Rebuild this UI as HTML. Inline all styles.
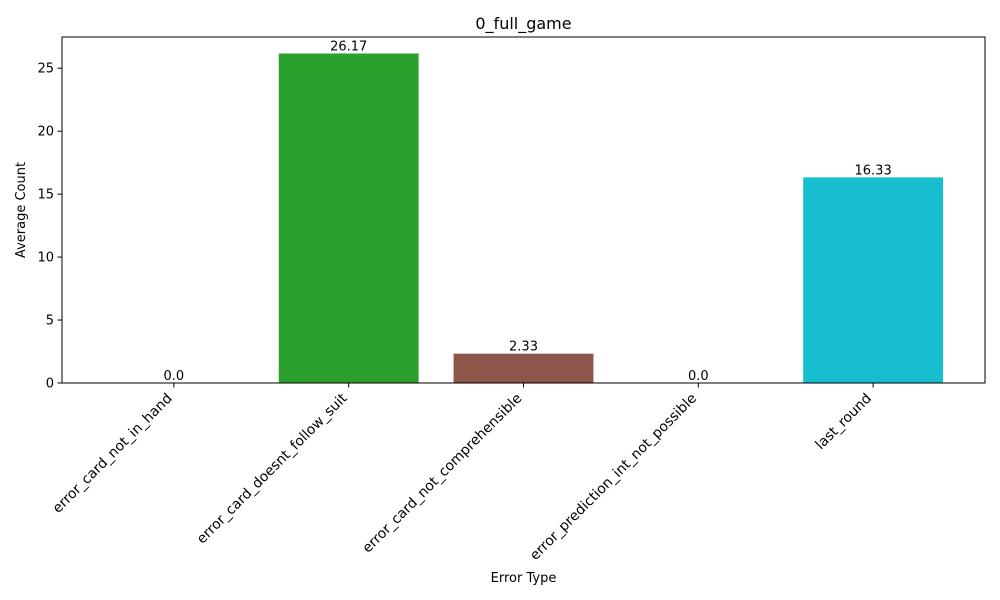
<!DOCTYPE html>
<html><head><meta charset="utf-8"><style>body{margin:0;background:#fff}svg{display:block;font-family:"DejaVu Sans","Liberation Sans",sans-serif}</style></head>
<body>
<svg id="chart" width="1000" height="600"></svg>
<script>
const categories=["error_card_not_in_hand","error_card_doesnt_follow_suit","error_card_not_comprehensible","error_prediction_int_not_possible","last_round"];
const values=[0.0,26.17,2.33,0.0,16.33];
const labels=["0.0","26.17","2.33","0.0","16.33"];
const colors=["#1f77b4","#2ca02c","#8c564b","#e377c2","#17becf"];
const yTicks=[0,5,10,15,20,25];
const NS="http://www.w3.org/2000/svg";
const svg=document.getElementById("chart");
const L=62,R=985,T=37,B=383;
const yMax=Math.max(...values)*1.05;
const xMin=-0.64,xMax=categories.length-1+0.64;
const x=v=>L+(v-xMin)/(xMax-xMin)*(R-L);
const y=v=>B-v/yMax*(B-T);
function mk(tag,attrs,parent){const e=document.createElementNS(NS,tag);for(const k in attrs)e.setAttribute(k,attrs[k]);(parent||svg).appendChild(e);return e;}
const bw=(x(0.8)-x(0));
values.forEach((v,i)=>{
 const r=mk("rect",{x:x(i)-bw/2,y:y(v),width:bw,height:B-y(v),fill:colors[i]});
 
 
 const t=mk("text",{x:x(i),y:y(v)-3,"text-anchor":"middle","font-size":"13"});t.textContent=labels[i];
 
 
 mk("line",{x1:x(i),x2:x(i),y1:B,y2:B+4.5,stroke:"#000","stroke-width":1});
 const xl=mk("text",{transform:`translate(${x(i)-1},${B+16}) rotate(-45)`,"text-anchor":"end","font-size":"13.9"});xl.textContent=categories[i];
 
 
});
yTicks.forEach(v=>{
 mk("line",{x1:L-4.5,x2:L,y1:y(v),y2:y(v),stroke:"#000","stroke-width":1});
 const t=mk("text",{x:L-8,y:y(v)+4.5,"text-anchor":"end","font-size":"13"});t.textContent=v;
 
 
});
const fr=mk("rect",{x:L,y:T,width:R-L,height:B-T,fill:"none",stroke:"#000","stroke-width":1});


const ti=mk("text",{x:(L+R)/2,y:29,"text-anchor":"middle","font-size":"16"});ti.textContent="0_full_game";


const xt=mk("text",{x:(L+R)/2,y:582,"text-anchor":"middle","font-size":"13"});xt.textContent="Error Type";


const yt=mk("text",{transform:`translate(25,${(T+B)/2}) rotate(-90)`,"text-anchor":"middle","font-size":"13"});yt.textContent="Average Count";


</script>
</body></html>
